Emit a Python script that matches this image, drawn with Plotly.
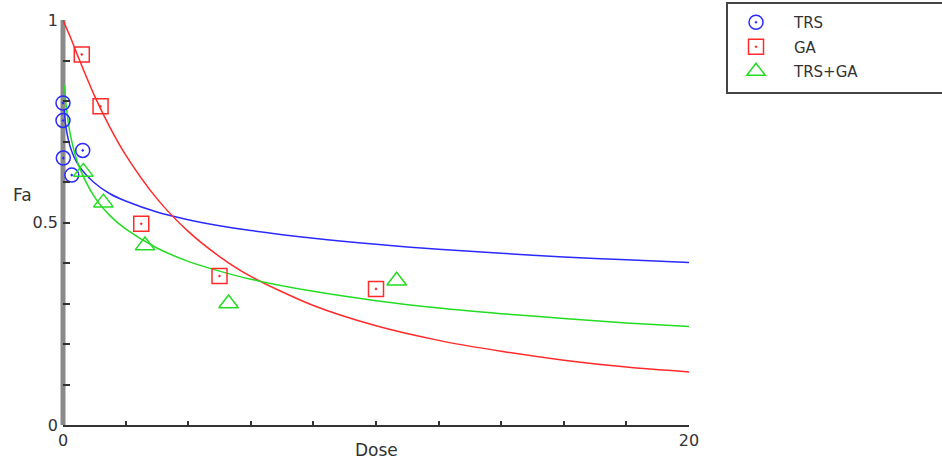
import plotly.graph_objects as go

# Observed fraction affected (Fa) at each dose
trs_dose = [0.0, 0.0, 0.63, 0.01, 0.28]
trs_fa = [0.795, 0.752, 0.678, 0.659, 0.617]

ga_dose = [0.6, 1.2, 2.5, 5.0, 10.0]
ga_fa = [0.915, 0.787, 0.497, 0.368, 0.336]

combo_dose = [0.65, 1.29, 2.62, 5.29, 10.66]
combo_fa = [0.625, 0.549, 0.443, 0.300, 0.356]

# Dose-effect curves
ga_curve_dose = [0, 0.25, 0.5, 1, 1.5, 2, 3, 4, 5, 6, 8, 10, 12, 14, 16, 18, 20]
ga_curve_fa = [1.0, 0.955, 0.906, 0.814, 0.735, 0.667, 0.559, 0.478, 0.416,
               0.367, 0.295, 0.245, 0.209, 0.182, 0.160, 0.143, 0.131]

trs_curve_dose = [0.04, 0.1, 0.25, 0.5, 1, 1.5, 2, 3, 4, 5, 6, 8, 10, 12, 14, 16, 18, 20]
trs_curve_fa = [0.778, 0.733, 0.682, 0.641, 0.598, 0.571, 0.553, 0.526, 0.507,
                0.492, 0.480, 0.461, 0.446, 0.434, 0.424, 0.415, 0.408, 0.401]

combo_curve_dose = [0.05, 0.1, 0.25, 0.5, 1, 1.5, 2, 3, 4, 5, 6, 8, 10, 12, 14, 16, 18, 20]
combo_curve_fa = [0.839, 0.790, 0.711, 0.641, 0.564, 0.517, 0.484, 0.437, 0.404,
                  0.380, 0.360, 0.330, 0.307, 0.289, 0.275, 0.263, 0.252, 0.243]

x_tick_vals = [0, 2, 4, 6, 8, 10, 12, 14, 16, 18, 20]
x_tick_text = ["0", "", "", "", "", "", "", "", "", "", "20"]
y_tick_vals = [0, 0.1, 0.2, 0.3, 0.4, 0.5, 0.6, 0.7, 0.8, 0.9, 1.0]
y_tick_text = ["0", "", "", "", "", "0.5", "", "", "", "", "1"]

BLUE = "#2a2aff"
RED = "#ff2a2a"
GREEN = "#22dd22"
FONT = "DejaVu Sans"
TEXT = "#333333"

fig = go.Figure()

# fitted curves
for xs, ys, col in [(trs_curve_dose, trs_curve_fa, BLUE),
                    (ga_curve_dose, ga_curve_fa, RED),
                    (combo_curve_dose, combo_curve_fa, GREEN)]:
    fig.add_trace(go.Scatter(x=xs, y=ys, mode="lines", showlegend=False,
                             line=dict(color=col, width=1.5, shape="spline", smoothing=0.8),
                             hoverinfo="skip", cliponaxis=False))

# observed points
fig.add_trace(go.Scatter(x=trs_dose, y=trs_fa, mode="markers", name="TRS", legendgroup="a",
                         marker=dict(symbol="circle-open-dot", size=14, color=BLUE,
                                     line=dict(color=BLUE, width=1.5)),
                         cliponaxis=False))
fig.add_trace(go.Scatter(x=ga_dose, y=ga_fa, mode="markers", name="GA", legendgroup="b",
                         marker=dict(symbol="square-open-dot", size=15, color=RED,
                                     line=dict(color=RED, width=1.5)),
                         cliponaxis=False))
fig.add_trace(go.Scatter(x=combo_dose, y=combo_fa, mode="markers", name="TRS+GA", legendgroup="c",
                         marker=dict(symbol="triangle-up-open", size=17, color=GREEN,
                                     line=dict(color=GREEN, width=1.5)),
                         cliponaxis=False))

fig.update_layout(
    width=942, height=463,
    margin=dict(l=63, r=253, t=20, b=38),
    paper_bgcolor="white", plot_bgcolor="white",
    font=dict(family=FONT, size=15, color=TEXT),
    showlegend=True,
    legend=dict(xref="container", yref="container", x=718 / 942, y=1 - 6 / 463,
                xanchor="left", yanchor="top", bgcolor="rgba(0,0,0,0)",
                borderwidth=0, tracegroupgap=2, itemwidth=66,
                font=dict(family=FONT, size=15, color=TEXT)),
    xaxis=dict(range=[0, 20], showgrid=False, zeroline=False,
               showline=True, linecolor="#333333", linewidth=2,
               ticks="inside", ticklen=4, tickwidth=1.5, tickcolor="#333333",
               tickvals=x_tick_vals, ticktext=x_tick_text,
               tickfont=dict(family=FONT, size=16, color=TEXT)),
    yaxis=dict(range=[0, 1], showgrid=False, zeroline=False,
               showline=False,
               ticks="inside", ticklen=7, tickwidth=1.5, tickcolor="#333333",
               tickvals=y_tick_vals, ticktext=y_tick_text, ticklabelstandoff=4,
               tickfont=dict(family=FONT, size=16, color=TEXT)),
    shapes=[
        # heavy grey left axis line, centred on dose 0
        dict(type="line", xref="paper", yref="paper", x0=0, x1=0, y0=0, y1=1,
             line=dict(color="#8a8a8a", width=5), layer="below"),
        # legend frame
        dict(type="rect", xref="paper", yref="paper",
             x0=(727 - 63) / 626, x1=(950 - 63) / 626,
             y0=(463 - 38 - 93) / 405, y1=(463 - 38 - 3) / 405,
             line=dict(color="#444444", width=2), fillcolor="rgba(0,0,0,0)"),
    ],
    annotations=[
        dict(text="Fa", xref="paper", yref="paper", x=(22 - 63) / 626, y=(425 - 195) / 405,
             showarrow=False, xanchor="center", yanchor="middle",
             font=dict(family=FONT, size=17, color=TEXT)),
        dict(text="Dose", xref="paper", yref="paper", x=0.5, y=-(450 - 425) / 405,
             showarrow=False, xanchor="center", yanchor="middle",
             font=dict(family=FONT, size=17, color=TEXT)),
    ],
)

fig.write_html("out.html")
